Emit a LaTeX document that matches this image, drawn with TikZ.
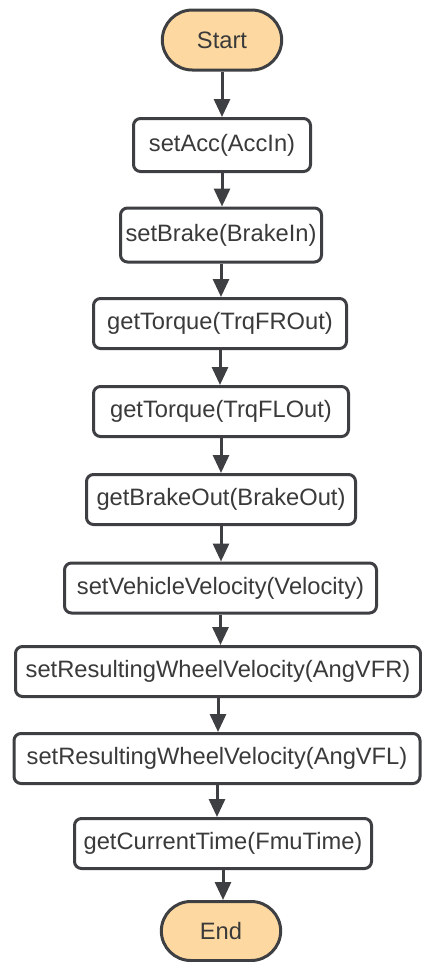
\documentclass[tikz,border=0pt]{standalone}
\usepackage{fontspec}
\setmainfont{Liberation Sans}
\usetikzlibrary{arrows.meta, shapes.misc, positioning}
\definecolor{linegray}{HTML}{3D3F42}
\definecolor{textgray}{HTML}{3A3A3A}
\definecolor{termfill}{HTML}{FDD9A1}

\begin{document}
\begin{tikzpicture}[x=1pt, y=-1pt,
  every node/.style={font=\fontsize{23.7}{28}\selectfont, text=textgray},
  terminal/.style={rounded rectangle, draw=linegray, line width=3pt, fill=termfill, minimum width=126pt, minimum height=60pt},
  procbox/.style={rectangle, rounded corners=7pt, draw=linegray, line width=3pt, fill=white, minimum height=50pt, inner xsep=0pt},
  flow/.style={draw=linegray, line width=3pt, -{Triangle[length=18pt,width=16pt]}}]
  \useasboundingbox (0,0) rectangle (422,962);
  % start
  \node[terminal] (start) at (222,40) {Start};
  % process steps
  \node[procbox, minimum width=177pt, minimum height=53pt] (acc) at (222,145) {setAcc(AccIn)};
  \node[procbox, minimum width=201pt, minimum height=54pt] (brake) at (221,235) {setBrake(BrakeIn)};
  \node[procbox, minimum width=253pt] (trqfr) at (220,323.5) {getTorque(TrqFROut)};
  \node[procbox, minimum width=255pt] (trqfl) at (221,411.5) {getTorque(TrqFLOut)};
  \node[procbox, minimum width=269pt] (brkout) at (221,499.5) {getBrakeOut(BrakeOut)};
  \node[procbox, minimum width=312pt] (vel) at (220.5,588) {setVehicleVelocity(Velocity)};
  \node[procbox, minimum width=405pt] (angfr) at (218,671.5) {setResultingWheelVelocity(AngVFR)};
  \node[procbox, minimum width=406pt] (angfl) at (217,758.5) {setResultingWheelVelocity(AngVFL)};
  \node[procbox, minimum width=297pt] (time) at (223,843.5) {getCurrentTime(FmuTime)};
  % end
  \node[terminal, minimum height=59pt] (end) at (221,931) {End};
  % arrows
  \draw[flow] (start.south) -- (start.south |- acc.north);
  \draw[flow] (acc.south) -- (acc.south |- brake.north);
  \draw[flow] (brake.south) -- (brake.south |- trqfr.north);
  \draw[flow] (trqfr.south) -- (trqfr.south |- trqfl.north);
  \draw[flow] (trqfl.south) -- (trqfl.south |- brkout.north);
  \draw[flow] (brkout.south) -- (brkout.south |- vel.north);
  \draw[flow] (vel.south) -- (vel.south |- angfr.north);
  \draw[flow] (angfr.south) -- (angfr.south |- angfl.north);
  \draw[flow] (angfl.south) -- (angfl.south |- time.north);
  \draw[flow] (time.south) -- (time.south |- end.north);
\end{tikzpicture}
\end{document}
